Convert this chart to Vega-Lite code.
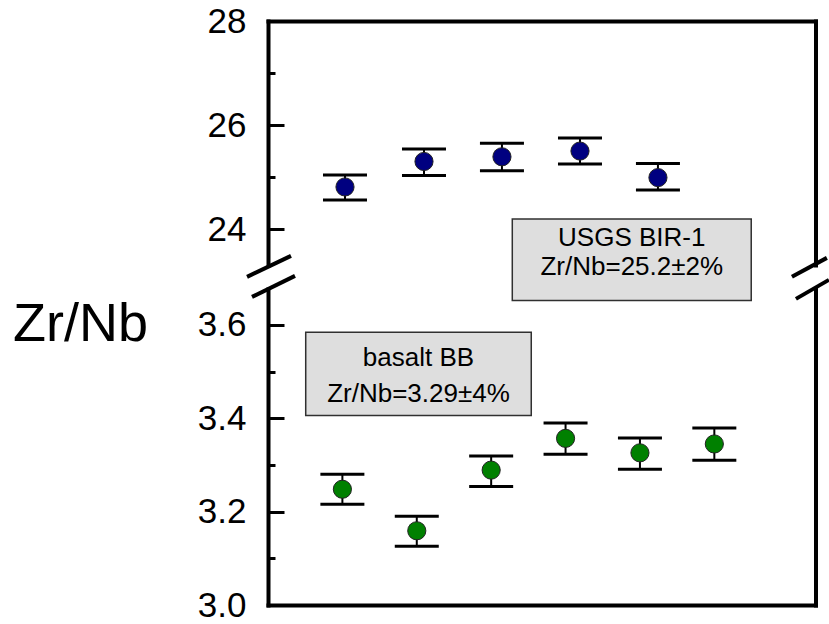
{
  "$schema": "https://vega.github.io/schema/vega-lite/v6.json",
  "background": "white",
  "padding": {"left": 12, "top": 4, "right": 0, "bottom": 0},
  "bounds": "flush",
  "spacing": 24,
  "datasets": {
    "bir": [
      {"run": 1.035, "ratio": 24.81, "lo": 24.56, "hi": 25.04},
      {"run": 2.097, "ratio": 25.30, "lo": 25.03, "hi": 25.54},
      {"run": 3.145, "ratio": 25.39, "lo": 25.12, "hi": 25.65},
      {"run": 4.194, "ratio": 25.50, "lo": 25.25, "hi": 25.75},
      {"run": 5.242, "ratio": 24.99, "lo": 24.75, "hi": 25.26}
    ],
    "bb": [
      {"run": 1, "ratio": 3.248, "lo": 3.216, "hi": 3.280},
      {"run": 2, "ratio": 3.159, "lo": 3.126, "hi": 3.190},
      {"run": 3, "ratio": 3.289, "lo": 3.254, "hi": 3.319},
      {"run": 4, "ratio": 3.357, "lo": 3.323, "hi": 3.390},
      {"run": 5, "ratio": 3.326, "lo": 3.291, "hi": 3.358},
      {"run": 6, "ratio": 3.345, "lo": 3.310, "hi": 3.379}
    ],
    "birText": [
      {"label": "USGS BIR-1", "tx": 4.89, "ty": 23.677},
      {"label": "Zr/Nb=25.2±2%", "tx": 4.89, "ty": 23.120}
    ],
    "bbText": [
      {"label": "basalt BB", "tx": 2.023, "ty": 3.5117},
      {"label": "Zr/Nb=3.29±4%", "tx": 2.023, "ty": 3.4358}
    ],
    "slashes": [
      {"sx": -0.282, "sy": 23.082, "sx2": 0.309, "sy2": 23.485},
      {"sx": -0.215, "sy": 22.697, "sx2": 0.363, "sy2": 23.101},
      {"sx": 7.043, "sy": 23.082, "sx2": 7.513, "sy2": 23.447},
      {"sx": 7.097, "sy": 22.659, "sx2": 7.540, "sy2": 23.024}
    ]
  },
  "vconcat": [
    {
      "width": 547.5,
      "height": 244,
      "resolve": {"axis": {"y": "independent"}},
      "layer": [
        {
          "data": {"values": [{}]},
          "mark": {"type": "rect", "fill": "#dedede", "stroke": "#303030", "strokeWidth": 1.5},
          "encoding": {
            "x": {"datum": 3.284, "type": "quantitative", "scale": {"domain": [0, 7.36], "nice": false, "zero": false}, "axis": {"orient": "top", "title": null}},
            "x2": {"datum": 6.496},
            "y": {"datum": 24.196, "type": "quantitative", "scale": {"domain": [23.31, 28], "nice": false, "zero": false}, "axis": null},
            "y2": {"datum": 22.626}
          }
        },
        {
          "data": {"name": "birText"},
          "mark": {"type": "text", "font": "Liberation Sans", "fontSize": 26, "align": "center", "baseline": "alphabetic", "color": "black"},
          "encoding": {
            "x": {"field": "tx", "type": "quantitative", "axis": {"orient": "top", "title": null}},
            "y": {"field": "ty", "type": "quantitative", "axis": null},
            "text": {"field": "label"}
          }
        },
        {
          "data": {"name": "bir"},
          "mark": {"type": "rule", "color": "black", "strokeWidth": 2},
          "encoding": {
            "x": {"field": "run", "type": "quantitative", "axis": {"orient": "top", "title": null}},
            "y": {"field": "lo", "type": "quantitative", "axis": {"orient": "left", "title": null, "values": [24, 25, 26, 27, 28], "labelExpr": "datum.value % 2 === 0 ? datum.label : ''", "tickSize": {"condition": {"test": "datum.value % 2 === 0", "value": -16}, "value": -7}, "labelPadding": 38, "labelOverlap": false}},
            "y2": {"field": "hi"}
          }
        },
        {
          "data": {"name": "bir"},
          "mark": {"type": "tick", "color": "black", "opacity": 1, "orient": "horizontal", "size": 44, "thickness": 3},
          "encoding": {
            "x": {"field": "run", "type": "quantitative", "axis": {"orient": "top", "title": null}},
            "y": {"field": "lo", "type": "quantitative", "axis": {"orient": "right", "title": null}}
          }
        },
        {
          "data": {"name": "bir"},
          "mark": {"type": "tick", "color": "black", "opacity": 1, "orient": "horizontal", "size": 44, "thickness": 3},
          "encoding": {
            "x": {"field": "run", "type": "quantitative", "axis": {"orient": "top", "title": null}},
            "y": {"field": "hi", "type": "quantitative", "axis": null}
          }
        },
        {
          "data": {"name": "bir"},
          "mark": {"type": "point", "shape": "circle", "filled": true, "size": 330, "fill": "#000080", "stroke": "#222222", "strokeWidth": 1, "opacity": 1},
          "encoding": {
            "x": {"field": "run", "type": "quantitative", "axis": {"orient": "top", "title": null}},
            "y": {"field": "ratio", "type": "quantitative", "axis": null}
          }
        },
        {
          "data": {"name": "slashes"},
          "mark": {"type": "rule", "color": "black", "strokeWidth": 4},
          "encoding": {
            "x": {"field": "sx", "type": "quantitative", "axis": {"orient": "top", "title": null}},
            "x2": {"field": "sx2"},
            "y": {"field": "sy", "type": "quantitative", "axis": null},
            "y2": {"field": "sy2"}
          }
        }
      ]
    },
    {
      "width": 547.5,
      "height": 316,
      "resolve": {"axis": {"y": "independent"}},
      "layer": [
        {
          "data": {"values": [{}]},
          "mark": {"type": "rect", "fill": "#dedede", "stroke": "#303030", "strokeWidth": 1.5},
          "encoding": {
            "x": {"datum": 0.507, "type": "quantitative", "scale": {"domain": [0, 7.36], "nice": false, "zero": false}, "axis": {"title": null}},
            "x2": {"datum": 3.539},
            "y": {"datum": 3.5846, "type": "quantitative", "scale": {"domain": [3.0, 3.677], "nice": false, "zero": false}, "axis": null},
            "y2": {"datum": 3.4058}
          }
        },
        {
          "data": {"name": "bbText"},
          "mark": {"type": "text", "font": "Liberation Sans", "fontSize": 26, "align": "center", "baseline": "alphabetic", "color": "black"},
          "encoding": {
            "x": {"field": "tx", "type": "quantitative", "axis": {"title": null}},
            "y": {"field": "ty", "type": "quantitative", "axis": null},
            "text": {"field": "label"}
          }
        },
        {
          "data": {"name": "bb"},
          "mark": {"type": "rule", "color": "black", "strokeWidth": 2},
          "encoding": {
            "x": {"field": "run", "type": "quantitative", "axis": {"title": null}},
            "y": {"field": "lo", "type": "quantitative", "axis": {"orient": "left", "title": "Zr/Nb", "titleAngle": 0, "titleAlign": "center", "titleBaseline": "alphabetic", "titleX": -188, "titleY": 51.7, "titleFont": "Liberation Sans", "titleFontSize": 54, "titleFontWeight": "normal", "titleColor": "black", "values": [3.0, 3.1, 3.2, 3.3, 3.4, 3.5, 3.6], "format": ".1f", "labelExpr": "round(datum.value * 10) % 2 === 0 ? datum.label : ''", "tickSize": {"condition": {"test": "round(datum.value * 10) % 2 === 0", "value": -16}, "value": -7}, "labelPadding": 38, "labelOverlap": false}},
            "y2": {"field": "hi"}
          }
        },
        {
          "data": {"name": "bb"},
          "mark": {"type": "tick", "color": "black", "opacity": 1, "orient": "horizontal", "size": 44, "thickness": 3},
          "encoding": {
            "x": {"field": "run", "type": "quantitative", "axis": {"title": null}},
            "y": {"field": "lo", "type": "quantitative", "axis": {"orient": "right", "title": null}}
          }
        },
        {
          "data": {"name": "bb"},
          "mark": {"type": "tick", "color": "black", "opacity": 1, "orient": "horizontal", "size": 44, "thickness": 3},
          "encoding": {
            "x": {"field": "run", "type": "quantitative", "axis": {"title": null}},
            "y": {"field": "hi", "type": "quantitative", "axis": null}
          }
        },
        {
          "data": {"name": "bb"},
          "mark": {"type": "point", "shape": "circle", "filled": true, "size": 330, "fill": "#008000", "stroke": "#222222", "strokeWidth": 1, "opacity": 1},
          "encoding": {
            "x": {"field": "run", "type": "quantitative", "axis": {"title": null}},
            "y": {"field": "ratio", "type": "quantitative", "axis": null}
          }
        }
      ]
    }
  ],
  "config": {
    "view": {"stroke": null},
    "axis": {"grid": false, "domainColor": "black", "domainWidth": 4, "domainCap": "square", "tickColor": "black", "tickWidth": 3, "labelFont": "Liberation Sans", "labelFontSize": 35, "labelColor": "black"},
    "axisX": {"labels": false, "ticks": false},
    "axisRight": {"labels": false, "ticks": false}
  }
}
